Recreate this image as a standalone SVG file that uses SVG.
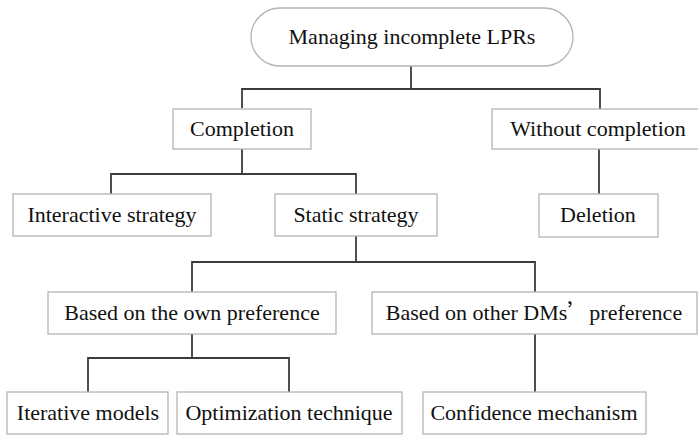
<svg xmlns="http://www.w3.org/2000/svg" width="698" height="435" viewBox="0 0 698 435">
<style>
.box{fill:#fff;stroke:#b4b4b4;stroke-width:1.3}
.lbl{font-family:'Liberation Serif','DejaVu Serif',serif;font-size:22px;fill:#111;text-anchor:middle}
.cn{fill:none;stroke:#3c3c3c;stroke-width:1.8}
.q{font-family:'Noto Sans CJK SC','Liberation Serif',serif}
</style>
<rect width="698" height="435" fill="#fff"/>
<g id="connectors">
<path class="cn" d="M411 66V89M242 108V89H600V109"/>
<path class="cn" d="M242 149V174M111 194V174H356V194"/>
<path class="cn" d="M599 149V194"/>
<path class="cn" d="M356 236V262M192 292V262H535V292"/>
<path class="cn" d="M192 334V358M88 392V358H289V392"/>
<path class="cn" d="M535 334V392"/>
</g>
<g id="root"><rect class="box" x="251" y="8" width="322" height="58" rx="29"/><text class="lbl" x="412" y="44">Managing incomplete LPRs</text></g>
<g id="completion"><rect class="box" x="173" y="109" width="138" height="40"/><text class="lbl" x="242" y="136">Completion</text></g>
<g id="without"><rect class="box" x="492" y="109" width="210" height="40"/><text class="lbl" x="598" y="136">Without completion</text></g>
<g id="interactive"><rect class="box" x="13" y="194" width="198" height="42"/><text class="lbl" x="112" y="222">Interactive strategy</text></g>
<g id="static"><rect class="box" x="275" y="194" width="162" height="42"/><text class="lbl" x="356" y="222">Static strategy</text></g>
<g id="deletion"><rect class="box" x="539" y="194" width="119" height="43"/><text class="lbl" x="598" y="222">Deletion</text></g>
<g id="own"><rect class="box" x="48" y="292" width="288" height="42"/><text class="lbl" x="192" y="320">Based on the own preference</text></g>
<g id="others"><rect class="box" x="372" y="292" width="325" height="42"/><text class="lbl" x="534" y="320">Based on other DMs<tspan class="q">’</tspan>preference</text></g>
<g id="iterative"><rect class="box" x="7" y="392" width="161" height="42"/><text class="lbl" x="88" y="420">Iterative models</text></g>
<g id="optimization"><rect class="box" x="177" y="392" width="225" height="42"/><text class="lbl" x="289" y="420">Optimization technique</text></g>
<g id="confidence"><rect class="box" x="423" y="392" width="223" height="42"/><text class="lbl" x="534" y="420">Confidence mechanism</text></g>
</svg>
